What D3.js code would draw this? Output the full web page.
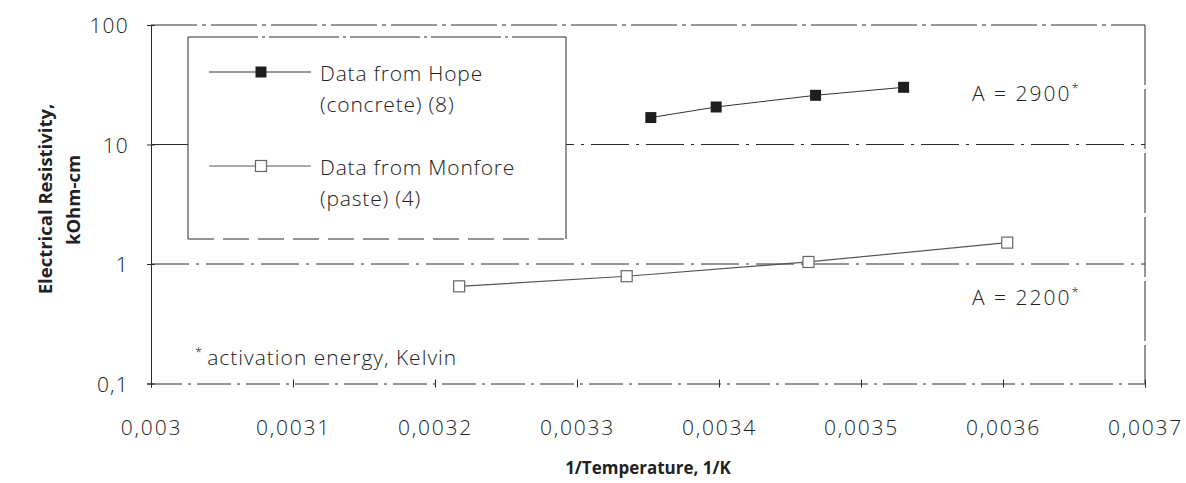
<!DOCTYPE html>
<html>
<head>
<meta charset="utf-8">
<script src="https://cdn.jsdelivr.net/npm/d3@7"></script>
<style>
  html, body { margin: 0; padding: 0; background: #fff; }
  svg { display: block; }
  .lbl { font-family: "Open Sans", "DejaVu Sans", sans-serif; font-weight: 300; fill: #222; }
  .ttl { font-family: "Open Sans", "DejaVu Sans", sans-serif; font-weight: 700; fill: #222; }
</style>
</head>
<body>
<svg id="chart" width="1186" height="483"></svg>
<script>
// Resistivity vs. reciprocal temperature (Arrhenius plot)
const hopeX = [0.003352, 0.003398, 0.003468, 0.003530];
const hopeY = [16.8, 20.6, 25.8, 30.1];
const monforeX = [0.003217, 0.003335, 0.003463, 0.003603];
const monforeY = [0.65, 0.79, 1.04, 1.51];

const xTicks = [0.0030, 0.0031, 0.0032, 0.0033, 0.0034, 0.0035, 0.0036, 0.0037];
const xTickLabels = ["0,003", "0,0031", "0,0032", "0,0033", "0,0034", "0,0035", "0,0036", "0,0037"];
const yTicks = [0.1, 1, 10, 100];
const yTickLabels = ["0,1", "1", "10", "100"];

const seriesNames = [["Data from Hope", "(concrete) (8)"], ["Data from Monfore", "(paste) (4)"]];
const activation = ["A = 2900", "A = 2200"];
const footnote = "activation energy, Kelvin";

const svg = d3.select("#chart");
const plotL = 151, plotR = 1145, plotT = 25, plotB = 383.5;

const x = d3.scaleLinear().domain([0.003, 0.0037]).range([plotL, plotR]);
const y = d3.scaleLog().domain([0.1, 100]).range([plotB, plotT]);

const ink = "#2a2a2a";

// frame: top edge and right edge
svg.append("line").attr("x1", plotL).attr("x2", plotR).attr("y1", plotT).attr("y2", plotT)
  .attr("stroke", ink).attr("stroke-width", 1).attr("stroke-dasharray", "46,5,4,5");
svg.append("line").attr("x1", plotR).attr("x2", plotR).attr("y1", plotT).attr("y2", plotB)
  .attr("stroke", ink).attr("stroke-width", 1).attr("stroke-dasharray", "60,4");

// horizontal gridlines at 1 and 10
svg.append("g").selectAll("line").data([1, 10]).join("line")
  .attr("x1", plotL).attr("x2", plotR)
  .attr("y1", d => y(d)).attr("y2", d => y(d))
  .attr("stroke", ink).attr("stroke-width", 1).attr("stroke-dasharray", "38,7,3,7");

// x axis
const xAxis = d3.axisBottom(x).tickValues(xTicks)
  .tickFormat((d, i) => xTickLabels[i]).tickSize(4).tickPadding(0);
const gx = svg.append("g").attr("transform", `translate(0,${plotB})`).call(xAxis);
gx.select(".domain").attr("stroke", ink).attr("stroke-dasharray", "34,6,3,6");
gx.selectAll(".tick line").attr("y1", -4).attr("y2", 4).attr("stroke", ink);
gx.selectAll(".tick text").attr("class", "lbl").attr("y", 51).attr("dy", 0)
  .attr("font-size", 21).attr("letter-spacing", 1.8);

// y axis
const yAxis = d3.axisLeft(y).tickValues(yTicks)
  .tickFormat((d, i) => yTickLabels[i]).tickSize(4).tickPadding(0);
const gy = svg.append("g").attr("transform", `translate(${plotL},0)`).call(yAxis);
gy.select(".domain").attr("stroke", ink);
gy.selectAll(".tick line").attr("x1", -4).attr("x2", 4).attr("stroke", ink);
gy.selectAll(".tick text").attr("class", "lbl").attr("x", -22).attr("dy", "0.36em")
  .attr("font-size", 21).attr("letter-spacing", 1.2);

// axis titles
svg.append("text").attr("class", "ttl").attr("font-size", 18.5)
  .attr("text-anchor", "middle").attr("transform", "translate(52,199) rotate(-90)")
  .text("Electrical Resistivity,");
svg.append("text").attr("class", "ttl").attr("font-size", 18.5)
  .attr("text-anchor", "middle").attr("transform", "translate(80,200) rotate(-90)")
  .text("kOhm-cm");
svg.append("text").attr("class", "ttl").attr("font-size", 17)
  .attr("text-anchor", "middle").attr("x", 648).attr("y", 474)
  .text("1/Temperature, 1/K");

// series
const line = d3.line().x(d => x(d[0])).y(d => y(d[1]));
const hope = hopeX.map((v, i) => [v, hopeY[i]]);
const monfore = monforeX.map((v, i) => [v, monforeY[i]]);

svg.append("path").datum(hope).attr("d", line)
  .attr("fill", "none").attr("stroke", "#333").attr("stroke-width", 1);
svg.append("path").datum(monfore).attr("d", line)
  .attr("fill", "none").attr("stroke", "#555").attr("stroke-width", 1.2);

const ms = 11;
svg.append("g").selectAll("rect").data(hope).join("rect")
  .attr("x", d => x(d[0]) - ms / 2).attr("y", d => y(d[1]) - ms / 2)
  .attr("width", ms).attr("height", ms).attr("fill", "#1e1e1e");
svg.append("g").selectAll("rect").data(monfore).join("rect")
  .attr("x", d => x(d[0]) - ms / 2).attr("y", d => y(d[1]) - ms / 2)
  .attr("width", ms).attr("height", ms).attr("fill", "#fff")
  .attr("stroke", "#666").attr("stroke-width", 1.2);

// legend box
const lg = svg.append("g");
const lx0 = 188, lx1 = 566, ly0 = 37, ly1 = 239;
lg.append("rect").attr("x", lx0).attr("y", ly0).attr("width", lx1 - lx0).attr("height", ly1 - ly0)
  .attr("fill", "#fff").attr("stroke", "none");
lg.append("line").attr("x1", lx0).attr("x2", lx1).attr("y1", ly0).attr("y2", ly0)
  .attr("stroke", ink).attr("stroke-dasharray", "70,4,3,4");
lg.append("line").attr("x1", lx0).attr("x2", lx1).attr("y1", ly1).attr("y2", ly1)
  .attr("stroke", ink).attr("stroke-dasharray", "26,9");
lg.append("line").attr("x1", lx0).attr("x2", lx0).attr("y1", ly0).attr("y2", ly1).attr("stroke", ink);
lg.append("line").attr("x1", lx1).attr("x2", lx1).attr("y1", ly0).attr("y2", ly1).attr("stroke", ink);

const legendRows = [
  { y: 72, filled: true, names: seriesNames[0] },
  { y: 166, filled: false, names: seriesNames[1] }
];
legendRows.forEach(r => {
  lg.append("line").attr("x1", 209).attr("x2", 311).attr("y1", r.y).attr("y2", r.y)
    .attr("stroke", r.filled ? "#333" : "#555").attr("stroke-width", 1);
  lg.append("rect").attr("x", 261 - ms / 2).attr("y", r.y - ms / 2).attr("width", ms).attr("height", ms)
    .attr("fill", r.filled ? "#1e1e1e" : "#fff")
    .attr("stroke", r.filled ? "none" : "#666").attr("stroke-width", 1.2);
  r.names.forEach((t, k) => {
    lg.append("text").attr("class", "lbl").attr("font-size", 21).attr("letter-spacing", 0.8)
      .attr("x", 320).attr("y", r.y + 9 + k * 31).text(t);
  });
});

// activation energy annotations
[[0, 93], [1, 297]].forEach(([i, ty]) => {
  const t = svg.append("text").attr("class", "lbl").attr("font-size", 21).attr("letter-spacing", 2)
    .attr("x", 972).attr("y", ty + 8);
  t.append("tspan").text(activation[i]);
  t.append("tspan").attr("font-size", 13).attr("dy", -8).text("*");
});

// footnote
const fn = svg.append("text").attr("class", "lbl").attr("font-size", 21).attr("letter-spacing", 1)
  .attr("x", 195).attr("y", 365);
fn.append("tspan").attr("font-size", 13).attr("dy", -8).text("*");
fn.append("tspan").attr("dx", 4).attr("dy", 8).text(footnote);
</script>
</body>
</html>
